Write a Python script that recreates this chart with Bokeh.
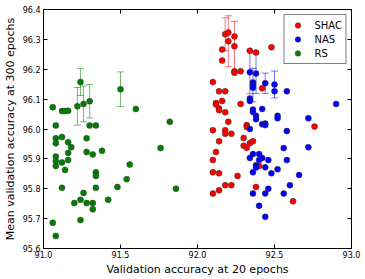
from bokeh.plotting import figure
from bokeh.models import (Range1d, FixedTicker, PrintfTickFormatter, LinearAxis,
                          Whisker, TeeHead, ColumnDataSource, CustomLabelingPolicy)
from bokeh.embed import file_html
from bokeh.resources import INLINE

# ---------------- data ----------------
shac_x = [92.18, 92.20, 92.20, 92.24, 92.24, 92.16, 92.16, 92.24, 92.24, 92.28,
          92.34, 92.38, 92.48, 92.10, 92.14, 92.18, 92.42, 92.16, 92.12, 92.12,
          92.14, 92.14, 92.18, 92.28, 92.20, 92.10, 92.18, 92.18, 92.22, 92.32,
          92.32, 92.30, 92.76, 92.14, 92.34, 92.36, 92.30, 92.32, 92.12, 92.10,
          92.10, 92.14, 92.26, 92.18, 92.22, 92.14, 92.10, 92.38, 92.40, 92.62]
shac_y = [96.317, 96.323, 96.294, 96.310, 96.277, 96.266, 96.229, 96.193, 96.188, 96.193,
          96.262, 96.256, 96.274, 96.157, 96.126, 96.126, 96.136, 96.094, 96.087, 96.082,
          96.069, 96.063, 96.056, 96.084, 96.024, 95.996, 95.996, 95.984, 95.984, 96.013,
          96.007, 95.970, 96.008, 95.959, 95.953, 95.959, 95.944, 95.937, 95.923, 95.896,
          95.855, 95.852, 95.843, 95.812, 95.812, 95.795, 95.784, 95.806, 95.876, 95.758]

nas_x = [92.34, 92.38, 92.36, 92.36, 92.36, 92.44, 92.50, 92.50, 92.58, 92.34,
         92.34, 92.90, 92.36, 92.36, 92.42, 92.38, 92.38, 92.52, 92.52, 92.72,
         92.42, 92.44, 92.44, 92.34, 92.58, 92.56, 92.72, 92.36, 92.40, 92.42,
         92.34, 92.40, 92.46, 92.58, 92.38, 92.38, 92.44, 92.52, 92.36, 92.48,
         92.66, 92.60, 92.46, 92.36, 92.44, 92.56, 92.40, 92.44]
nas_y = [96.190, 96.186, 96.156, 96.147, 96.138, 96.153, 96.149, 96.126, 96.126, 96.102,
         96.094, 96.084, 96.065, 96.057, 96.067, 96.044, 96.033, 96.044, 96.036, 96.036,
         96.016, 96.018, 96.013, 96.000, 95.993, 95.936, 95.939, 95.916, 95.916, 95.903,
         95.903, 95.896, 95.896, 95.896, 95.879, 95.871, 95.872, 95.865, 95.855, 95.852,
         95.846, 95.812, 95.800, 95.784, 95.784, 95.784, 95.743, 95.706]

rs_x = [91.06, 91.08, 91.08, 91.12, 91.12, 91.14, 91.16, 91.22, 91.24, 91.26,
        91.30, 91.30, 91.34, 91.28, 91.50, 91.60, 91.82, 91.08, 91.16, 91.18,
        91.08, 91.08, 91.08, 91.16, 91.16, 91.12, 91.14, 91.28, 91.32, 91.38,
        91.76, 91.56, 91.34, 91.34, 91.12, 91.34, 91.48, 91.54, 91.86, 91.26,
        91.24, 91.20, 91.28, 91.32, 91.42, 91.32, 91.24, 91.06, 91.08]
rs_y = [96.073, 96.012, 95.969, 95.973, 96.060, 96.060, 96.061, 96.076, 96.157, 96.084,
        96.093, 96.012, 96.012, 95.969, 96.133, 96.067, 96.024, 95.952, 95.956, 95.939,
        95.908, 95.892, 95.876, 95.920, 95.896, 95.888, 95.863, 95.923, 95.915, 95.927,
        95.936, 95.881, 95.855, 95.843, 95.803, 95.803, 95.806, 95.832, 95.800, 95.786,
        95.763, 95.752, 95.752, 95.752, 95.763, 95.731, 95.695, 95.686, 95.642]

shac_err_x = [92.18, 92.20, 92.24]
shac_err_y = [96.317, 96.294, 96.277]
shac_err = [0.055, 0.085, 0.083]

nas_err_x = [92.34, 92.38, 92.36, 92.44, 92.50]
nas_err_y = [96.190, 96.186, 96.147, 96.153, 96.149]
nas_err = [0.072, 0.067, 0.056, 0.034, 0.045]

rs_err_x = [91.22, 91.24, 91.26, 91.30, 91.50]
rs_err_y = [96.076, 96.157, 96.084, 96.093, 96.133]
rs_err = [0.063, 0.045, 0.060, 0.056, 0.058]

x_ticks = [91.0, 91.5, 92.0, 92.5, 93.0]
y_ticks = [95.6, 95.7, 95.8, 95.9, 96.0, 96.1, 96.2, 96.3, 96.4]

x_label = "Validation accuracy at 20 epochs"
y_label = "Mean validation accuracy at 300 epochs"

FONT = "DejaVu Sans"

p = figure(width=365, height=279, output_backend="svg", toolbar_location=None,
           x_range=Range1d(91.0, 93.0), y_range=Range1d(95.6, 96.4),
           min_border_left=41, min_border_right=14, min_border_top=9,
           min_border_bottom=31)
p.xgrid.visible = False
p.ygrid.visible = False
p.outline_line_color = "black"
p.outline_line_width = 1
p.background_fill_color = "white"
p.border_fill_color = "white"

def style_axis(ax, ticks, show_labels):
    ax.ticker = FixedTicker(ticks=ticks)
    ax.formatter = PrintfTickFormatter(format="%.1f")
    ax.major_tick_in = 4
    ax.major_tick_out = 0
    ax.minor_tick_line_color = None
    ax.axis_line_color = "black"
    ax.major_tick_line_color = "black"
    ax.major_label_text_font = FONT
    ax.major_label_text_color = "black"
    if show_labels:
        ax.major_label_text_font_size = "8px"
        ax.major_label_standoff = 2
    else:
        ax.major_label_text_font_size = "1px"
        ax.major_label_standoff = 0
        ax.major_label_policy = CustomLabelingPolicy(code="return new Set()")

style_axis(p.xaxis[0], x_ticks, True)
style_axis(p.yaxis[0], y_ticks, True)
p.yaxis.major_label_standoff = 3
p.xaxis.axis_label = x_label
p.yaxis.axis_label = y_label
for ax in (p.xaxis[0], p.yaxis[0]):
    ax.axis_label_text_font = FONT
    ax.axis_label_text_font_size = "11px"
    ax.axis_label_text_font_style = "normal"
    ax.axis_label_text_color = "black"
p.xaxis.axis_label_standoff = 2
p.yaxis.axis_label_standoff = 3

top_ax = LinearAxis()
style_axis(top_ax, x_ticks, False)
p.add_layout(top_ax, "above")
right_ax = LinearAxis()
style_axis(right_ax, y_ticks, False)
p.add_layout(right_ax, "right")

def add_err(xs, ys, es, color):
    src = ColumnDataSource(dict(x=xs,
                                upper=[y + e for y, e in zip(ys, es)],
                                lower=[y - e for y, e in zip(ys, es)]))
    w = Whisker(source=src, base="x", upper="upper", lower="lower",
                dimension="height", line_color=color, line_alpha=0.55, line_width=1,
                upper_head=TeeHead(size=7, line_color=color, line_alpha=0.55, line_width=1),
                lower_head=TeeHead(size=7, line_color=color, line_alpha=0.55, line_width=1))
    p.add_layout(w)

add_err(shac_err_x, shac_err_y, shac_err, "#ff0000")
add_err(nas_err_x, nas_err_y, nas_err, "#0000ff")
add_err(rs_err_x, rs_err_y, rs_err, "#008000")

p.scatter(shac_x, shac_y, size=6, fill_color="#ff0000", line_color="#333333",
          line_width=0.5, legend_label="SHAC")
p.scatter(nas_x, nas_y, size=6, fill_color="#0000ff", line_color="#333333",
          line_width=0.5, legend_label="NAS")
p.scatter(rs_x, rs_y, size=6, fill_color="#008000", line_color="#333333",
          line_width=0.5, legend_label="RS")

lg = p.legend[0]
lg.location = "top_right"
lg.margin = 5
lg.padding = 3
lg.spacing = 0
lg.glyph_width = 20
lg.glyph_height = 14
lg.label_height = 14
lg.label_standoff = 7
lg.label_text_font = FONT
lg.label_text_font_size = "10px"
lg.label_text_color = "black"
lg.border_line_color = "black"
lg.border_line_width = 1
lg.background_fill_color = "white"
lg.background_fill_alpha = 1.0

open("out.html", "w").write(file_html(p, INLINE))
